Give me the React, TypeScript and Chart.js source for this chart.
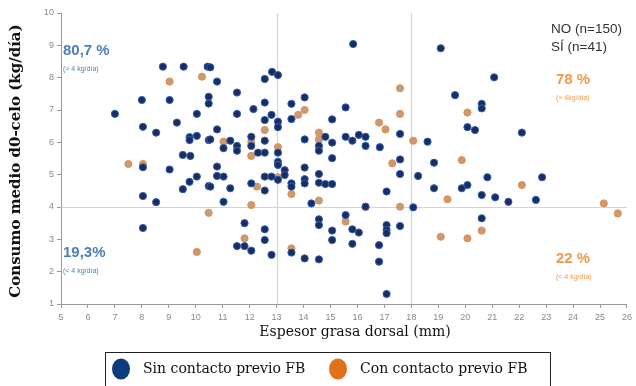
import React, { useEffect, useRef } from "react";
import { Chart, registerables } from "chart.js";

Chart.register(...registerables);

const seriesNames = ["Sin contacto previo FB", "Con contacto previo FB"];

const sinContacto: [number, number][] = [
  [8.78, 8.34], [9.55, 8.34], [10.44, 8.34], [8.0, 7.31], [9.03, 7.31], [10.48, 7.41], [10.48, 7.2],
  [7.0, 6.88], [10.04, 6.88], [8.04, 6.48], [9.3, 6.61], [8.53, 6.3], [9.77, 6.16], [9.77, 6.07],
  [10.04, 6.2], [10.48, 6.07], [9.52, 5.61], [9.8, 5.58], [8.04, 5.23], [9.03, 5.16], [10.04, 4.94],
  [9.77, 4.78], [9.52, 4.55], [10.48, 4.65], [8.04, 4.34], [8.53, 4.15], [8.04, 3.35], [10.54, 8.32],
  [10.79, 7.88], [11.53, 7.54], [12.83, 8.18], [13.05, 8.08], [12.56, 7.96], [12.56, 7.23], [12.14, 7.03],
  [11.53, 6.88], [12.81, 6.85], [12.56, 6.69], [13.05, 6.64], [13.05, 6.47], [13.55, 7.19], [14.04, 7.39],
  [13.55, 6.72], [10.79, 6.4], [10.54, 6.09], [11.28, 6.05], [11.53, 5.89], [11.53, 5.74], [11.03, 5.82],
  [12.06, 6.17], [12.06, 5.89], [12.56, 6.05], [12.31, 5.68], [12.56, 5.68], [13.05, 5.68], [13.05, 5.4],
  [13.05, 5.3], [13.3, 5.14], [14.04, 6.09], [14.04, 5.22], [14.04, 4.86], [14.04, 4.73], [13.55, 4.73],
  [13.55, 4.63], [10.79, 5.25], [10.79, 4.96], [11.03, 4.94], [10.54, 4.63], [11.28, 4.58], [12.06, 4.73],
  [12.56, 4.94], [12.81, 4.94], [13.05, 4.84], [13.3, 4.99], [12.56, 4.51], [11.03, 4.16], [14.29, 4.11],
  [11.81, 3.5], [12.56, 3.31], [12.56, 2.98], [11.53, 2.79], [11.81, 2.79], [12.06, 2.65], [12.81, 2.52],
  [13.55, 2.59], [14.04, 2.41], [15.84, 9.04], [15.56, 7.08], [15.06, 6.71], [17.58, 6.26], [14.57, 5.89],
  [14.57, 5.74], [14.81, 6.17], [15.06, 5.99], [15.56, 6.17], [15.81, 6.05], [16.05, 6.23], [16.3, 6.17],
  [16.3, 5.89], [16.83, 5.85], [15.06, 5.51], [17.58, 5.47], [17.58, 5.02], [14.57, 5.02], [14.57, 4.75],
  [14.81, 4.71], [15.06, 4.71], [17.08, 4.48], [18.25, 4.96], [16.3, 4.01], [18.07, 3.99], [14.57, 3.62],
  [14.57, 3.44], [15.56, 3.75], [15.81, 3.31], [16.05, 3.21], [15.06, 3.27], [15.06, 2.98], [15.81, 2.86],
  [17.08, 3.44], [17.08, 3.29], [17.08, 3.19], [17.58, 3.41], [16.8, 2.82], [14.57, 2.38], [16.8, 2.31],
  [17.08, 1.31], [19.09, 8.91], [21.07, 8.01], [19.62, 7.46], [20.61, 7.19], [20.61, 7.05], [20.08, 6.47],
  [20.36, 6.38], [22.1, 6.3], [18.6, 6.02], [18.84, 5.37], [20.82, 4.92], [18.84, 4.58], [19.87, 4.58],
  [20.08, 4.68], [20.61, 4.37], [21.11, 4.3], [21.6, 4.16], [20.61, 3.65], [22.85, 4.92], [22.62, 4.22],
];

const conContacto: [number, number][] = [
  [9.03, 7.88], [10.23, 8.03], [7.5, 5.33], [8.04, 5.33], [10.48, 3.82], [10.04, 2.61], [14.04, 7.0],
  [13.8, 6.85], [12.56, 6.38], [11.03, 6.02], [12.06, 6.02], [12.06, 5.58], [13.05, 5.85], [12.27, 4.63],
  [13.05, 4.92], [13.55, 4.4], [12.06, 4.06], [11.81, 3.03], [13.55, 2.72], [17.58, 7.67], [17.58, 6.88],
  [16.8, 6.61], [17.04, 6.4], [18.07, 6.05], [14.57, 6.3], [14.57, 6.09], [17.29, 5.35], [14.57, 4.2],
  [16.3, 4.0], [17.58, 4.01], [15.56, 3.55], [20.08, 6.92], [19.87, 5.45], [22.1, 4.68], [19.34, 4.24],
  [20.61, 3.27], [19.09, 3.08], [20.08, 3.03], [25.14, 4.11], [25.66, 3.8],
];

const xRange = [5, 26];
const yRange = [1, 10];
const xCuts = [13, 18];
const yCut = 4;

const xTitle = "Espesor grasa dorsal (mm)";
const yTitle = "Consumo medio d0-celo (kg/día)";
const countLines = ["NO (n=150)", "SÍ (n=41)"];
const quadrantLabels = [
  { big: "80,7 %", small: "(> 4 kg/día)", color: "#4d7fb5", x: 63, y: 51 },
  { big: "19,3%", small: "(< 4 kg/día)", color: "#4d7fb5", x: 63, y: 253 },
  { big: "78 %", small: "(> 4kg/día)", color: "#f09a4a", x: 556, y: 80 },
  { big: "22 %", small: "(< 4 kg/día)", color: "#f09a4a", x: 556, y: 259 },
];

const BLUE = "#0d3c7c";
const ORANGE = "#e0701a";

const overlayPlugin = {
  id: "overlay",
  beforeDatasetsDraw(chart: any) {
    const { ctx, chartArea, scales } = chart;
    const xs = scales.x;
    const ys = scales.y;
    ctx.save();
    ctx.strokeStyle = "#d4d4d4";
    ctx.lineWidth = 1.2;
    xCuts.forEach((v) => {
      const px = Math.round(xs.getPixelForValue(v)) + 0.5;
      ctx.beginPath();
      ctx.moveTo(px, chartArea.top);
      ctx.lineTo(px, chartArea.bottom);
      ctx.stroke();
    });
    const py = Math.round(ys.getPixelForValue(yCut)) + 0.5;
    ctx.beginPath();
    ctx.moveTo(chartArea.left, py);
    ctx.lineTo(chartArea.right, py);
    ctx.stroke();
    ctx.restore();
  },
  afterDraw(chart: any) {
    const { ctx, chartArea } = chart;
    ctx.save();
    quadrantLabels.forEach((q) => {
      ctx.fillStyle = q.color;
      ctx.textAlign = "left";
      ctx.textBaseline = "middle";
      ctx.font = "bold 15px 'Liberation Sans', Arial, sans-serif";
      ctx.fillText(q.big, q.x, q.y);
      ctx.font = "7px 'Liberation Sans', Arial, sans-serif";
      ctx.fillText(q.small, q.x, q.y + 18);
    });
    ctx.fillStyle = "#333";
    ctx.font = "13.5px 'Liberation Sans', Arial, sans-serif";
    ctx.textBaseline = "middle";
    ctx.fillText(countLines[0], 551, 29);
    ctx.fillText(countLines[1], 551, 47);
    ctx.fillStyle = "#111";
    ctx.font = "14px 'DejaVu Serif', serif";
    ctx.textAlign = "center";
    ctx.fillText(xTitle, 355, 332);
    ctx.save();
    ctx.translate(16, 161);
    ctx.rotate(-Math.PI / 2);
    ctx.font = "bold 15px 'DejaVu Serif', serif";
    ctx.fillText(yTitle, 0, 0);
    ctx.restore();
    ctx.strokeStyle = "#222";
    ctx.lineWidth = 1;
    ctx.strokeRect(105.5, 352.5, 445, 40);
    const items = [
      { name: seriesNames[0], color: BLUE, cx: 121, tx: 143 },
      { name: seriesNames[1], color: ORANGE, cx: 338, tx: 360 },
    ];
    items.forEach((it) => {
      ctx.fillStyle = it.color;
      ctx.beginPath();
      ctx.ellipse(it.cx, 369, 9, 10.5, 0, 0, Math.PI * 2);
      ctx.fill();
      ctx.fillStyle = "#111";
      ctx.textAlign = "left";
      ctx.font = "14px 'DejaVu Serif', serif";
      ctx.fillText(it.name, it.tx, 369);
    });
    ctx.restore();
  },
};

export default function App() {
  const ref = useRef<HTMLCanvasElement | null>(null);
  useEffect(() => {
    if (!ref.current) return;
    const chart = new Chart(ref.current, {
      type: "scatter",
      data: {
        datasets: [
          {
            label: seriesNames[0],
            data: sinContacto.map(([x, y]) => ({ x, y })),
            backgroundColor: "#1b2d5c",
            borderColor: "#2f5fb8",
            borderWidth: 1,
            pointRadius: 3.6,
          },
          {
            label: seriesNames[1],
            data: conContacto.map(([x, y]) => ({ x, y })),
            backgroundColor: "rgba(196,150,110,0.95)",
            borderColor: "rgba(230,140,70,0.9)",
            borderWidth: 1,
            pointRadius: 3.6,
          },
        ],
      },
      options: {
        responsive: false,
        animation: false,
        events: [],
        layout: { padding: { left: 0, top: 13, right: 9, bottom: 0 } },
        plugins: { legend: { display: false }, tooltip: { enabled: false } },
        scales: {
          x: {
            type: "linear",
            min: xRange[0],
            max: xRange[1],
            ticks: {
              stepSize: 1,
              autoSkip: false,
              maxRotation: 0,
              color: "#888",
              font: { size: 9, family: "'Liberation Sans', Arial, sans-serif" },
              padding: 4,
            },
            grid: { display: true, drawOnChartArea: false, tickLength: 4, color: "#999" },
            border: { color: "#999", width: 1 },
            afterFit: (s: any) => {
              s.height = 82;
            },
          },
          y: {
            type: "linear",
            min: yRange[0],
            max: yRange[1],
            ticks: {
              stepSize: 1,
              color: "#888",
              font: { size: 9, family: "'Liberation Sans', Arial, sans-serif" },
              padding: 3,
            },
            grid: { display: true, drawOnChartArea: false, tickLength: 4, color: "#999" },
            border: { color: "#999", width: 1 },
            afterFit: (s: any) => {
              s.width = 61;
            },
          },
        },
      },
      plugins: [overlayPlugin],
    });
    return () => chart.destroy();
  }, []);
  return (
    <div style={{ position: "absolute", left: 0, top: 0, width: 636, height: 386, background: "#fff" }}>
      <canvas ref={ref} width={636} height={386} style={{ display: "block" }} />
    </div>
  );
}
